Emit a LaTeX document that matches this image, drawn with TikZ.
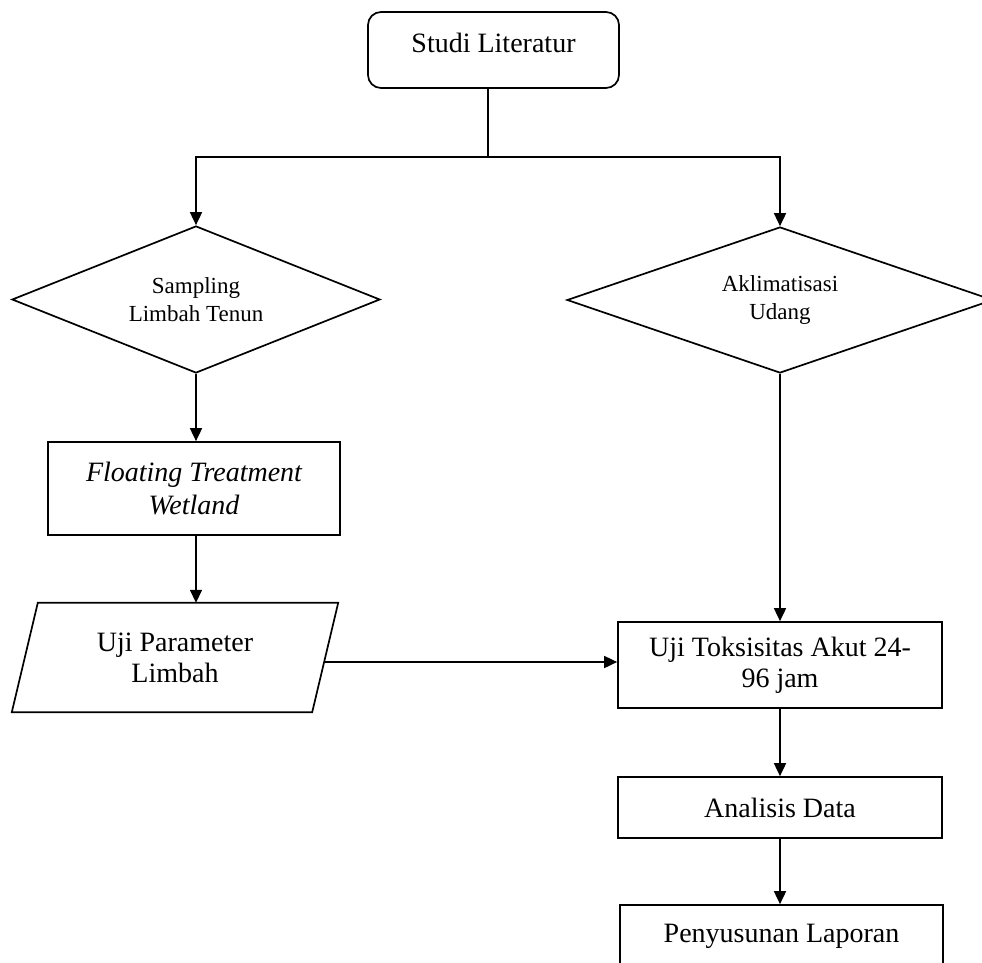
\documentclass[tikz,border=0pt]{standalone}
\usepackage{fontspec}
\setmainfont{Liberation Serif}
\usetikzlibrary{shapes.geometric,arrows.meta}
\begin{document}
\begin{tikzpicture}[x=1pt,y=-1pt,
  every node/.style={inner sep=0pt, align=center},
  bigtext/.style={font=\fontsize{28}{31}\selectfont},
  smalltext/.style={font=\fontsize{23}{28}\selectfont},
  startbox/.style={draw, line width=1.7pt, rectangle, rounded corners=13pt},
  proc/.style={draw, line width=1.7pt, rectangle, bigtext},
  dec/.style={draw, line width=1.7pt, diamond, aspect=2.5, smalltext},
  ln/.style={line width=1.7pt},
  arr/.style={line width=1.7pt, -{Triangle[length=13pt,width=12pt]}}
]
\path[use as bounding box, clip] (0,0) rectangle (982,963);

\node[startbox, minimum width=251, minimum height=76] (studi) at (493.5,50) {};
\node[bigtext] (studitxt) at (493.5,43) {Studi Literatur};
\node[dec, minimum width=368, minimum height=147] (samp) at (196,299.5) {Sampling\\Limbah Tenun};
\node[dec, minimum width=426, minimum height=146] (akli) at (780,300) {Aklimatisasi\\Udang};
\node[proc, minimum width=292, minimum height=93, font=\fontsize{28}{33}\selectfont\itshape] (ftw) at (194,488.5) {Floating Treatment\\Wetland};
\node[bigtext, minimum width=300, minimum height=109] (ujip) at (175,657.5) {Uji Parameter\\Limbah};
\draw[ln] ([xshift=-13pt]ujip.south west) -- ([xshift=13pt]ujip.north west)
  -- ([xshift=13pt]ujip.north east) -- ([xshift=-13pt]ujip.south east) -- cycle;
\node[proc, minimum width=324, minimum height=86] (ujit) at (780,665) {Uji Toksisitas Akut 24-\\96 jam};
\node[proc, minimum width=324, minimum height=61] (anal) at (780,807.5) {Analisis Data};
\node[proc, minimum width=323, minimum height=62] (peny) at (781.5,936) {Penyusunan Laporan};

\coordinate (split) at (488,157);
\draw[ln] (studi.south -| split) -- (split);
\draw[arr] (split) -| (samp.north);
\draw[arr] (split) -| (akli.north);
\draw[arr] (samp.south) -- (samp.south |- ftw.north);
\draw[arr] (samp.south |- ftw.south) -- (samp.south |- ujip.north);
\draw[arr] (akli.south) -- (akli.south |- ujit.north);
\draw[arr] ([yshift=-4.5pt]ujip.east) -- ([yshift=-4.5pt]ujip.east -| ujit.west);
\draw[arr] (ujit.south) -- (anal.north);
\draw[arr] (anal.south) -- (anal.south |- peny.north);
\end{tikzpicture}
\end{document}
